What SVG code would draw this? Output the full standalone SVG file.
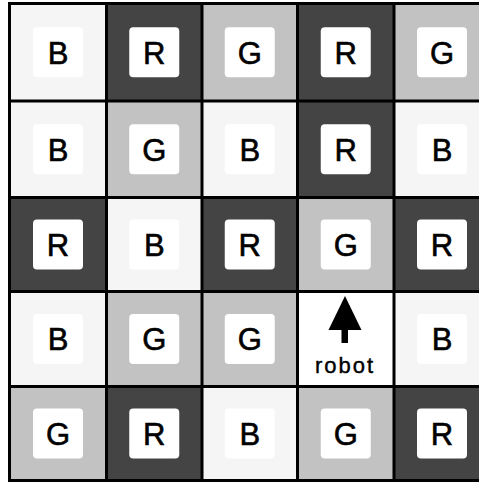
<svg xmlns="http://www.w3.org/2000/svg" width="479" height="482" viewBox="0 0 479 482">
<style>
.b{fill:#f5f5f5}
.g{fill:#c2c2c2}
.r{fill:#444444}
.w{fill:#ffffff}
.in{fill:#ffffff}
.t{font-family:"Liberation Sans",Arial,sans-serif;font-size:31px;text-anchor:middle;fill:#000;stroke:#000;stroke-width:0.6}
.grid{stroke:#000;stroke-width:3;fill:none}
</style>
<rect width="479" height="482" fill="#ffffff"/>
<g id="cells">
<g id="c00"><rect class="b" x="9.5" y="3.5" width="97" height="97.5"/><rect class="in" x="33" y="27.25" width="50" height="50" rx="4"/><text class="t" x="58" y="63.5">B</text></g>
<g id="c01"><rect class="r" x="106.5" y="3.5" width="95.5" height="97.5"/><rect class="in" x="129.25" y="27.25" width="50" height="50" rx="4"/><text class="t" x="154.25" y="63.5">R</text></g>
<g id="c02"><rect class="g" x="202" y="3.5" width="95.5" height="97.5"/><rect class="in" x="224.75" y="27.25" width="50" height="50" rx="4"/><text class="t" x="249.75" y="63.5">G</text></g>
<g id="c03"><rect class="r" x="297.5" y="3.5" width="96.5" height="97.5"/><rect class="in" x="320.75" y="27.25" width="50" height="50" rx="4"/><text class="t" x="345.75" y="63.5">R</text></g>
<g id="c04"><rect class="g" x="394" y="3.5" width="96" height="97.5"/><rect class="in" x="417" y="27.25" width="50" height="50" rx="4"/><text class="t" x="442" y="63.5">G</text></g>

<g id="c10"><rect class="b" x="9.5" y="101" width="97" height="96.5"/><rect class="in" x="33" y="124.25" width="50" height="50" rx="4"/><text class="t" x="58" y="160.5">B</text></g>
<g id="c11"><rect class="g" x="106.5" y="101" width="95.5" height="96.5"/><rect class="in" x="129.25" y="124.25" width="50" height="50" rx="4"/><text class="t" x="154.25" y="160.5">G</text></g>
<g id="c12"><rect class="b" x="202" y="101" width="95.5" height="96.5"/><rect class="in" x="224.75" y="124.25" width="50" height="50" rx="4"/><text class="t" x="249.75" y="160.5">B</text></g>
<g id="c13"><rect class="r" x="297.5" y="101" width="96.5" height="96.5"/><rect class="in" x="320.75" y="124.25" width="50" height="50" rx="4"/><text class="t" x="345.75" y="160.5">R</text></g>
<g id="c14"><rect class="b" x="394" y="101" width="96" height="96.5"/><rect class="in" x="417" y="124.25" width="50" height="50" rx="4"/><text class="t" x="442" y="160.5">B</text></g>

<g id="c20"><rect class="r" x="9.5" y="197.5" width="97" height="94"/><rect class="in" x="33" y="219.5" width="50" height="50" rx="4"/><text class="t" x="58" y="255.5">R</text></g>
<g id="c21"><rect class="b" x="106.5" y="197.5" width="95.5" height="94"/><rect class="in" x="129.25" y="219.5" width="50" height="50" rx="4"/><text class="t" x="154.25" y="255.5">B</text></g>
<g id="c22"><rect class="r" x="202" y="197.5" width="95.5" height="94"/><rect class="in" x="224.75" y="219.5" width="50" height="50" rx="4"/><text class="t" x="249.75" y="255.5">R</text></g>
<g id="c23"><rect class="g" x="297.5" y="197.5" width="96.5" height="94"/><rect class="in" x="320.75" y="219.5" width="50" height="50" rx="4"/><text class="t" x="345.75" y="255.5">G</text></g>
<g id="c24"><rect class="r" x="394" y="197.5" width="96" height="94"/><rect class="in" x="417" y="219.5" width="50" height="50" rx="4"/><text class="t" x="442" y="255.5">R</text></g>

<g id="c30"><rect class="b" x="9.5" y="291.5" width="97" height="95"/><rect class="in" x="33" y="314" width="50" height="50" rx="4"/><text class="t" x="58" y="350">B</text></g>
<g id="c31"><rect class="g" x="106.5" y="291.5" width="95.5" height="95"/><rect class="in" x="129.25" y="314" width="50" height="50" rx="4"/><text class="t" x="154.25" y="350">G</text></g>
<g id="c32"><rect class="g" x="202" y="291.5" width="95.5" height="95"/><rect class="in" x="224.75" y="314" width="50" height="50" rx="4"/><text class="t" x="249.75" y="350">G</text></g>
<g id="robot"><rect class="w" x="297.5" y="291.5" width="96.5" height="95"/><polygon points="345,296 328.5,330 361.5,330" fill="#000"/><rect x="341.5" y="328" width="6.5" height="15" fill="#000"/><text x="345" y="373" font-family="Liberation Sans,Arial,sans-serif" font-size="22" letter-spacing="2" text-anchor="middle" fill="#000" stroke="#000" stroke-width="0.4">robot</text></g>
<g id="c34"><rect class="b" x="394" y="291.5" width="96" height="95"/><rect class="in" x="417" y="314" width="50" height="50" rx="4"/><text class="t" x="442" y="350">B</text></g>

<g id="c40"><rect class="g" x="9.5" y="386.5" width="97" height="94"/><rect class="in" x="33" y="408.5" width="50" height="50" rx="4"/><text class="t" x="58" y="444.5">G</text></g>
<g id="c41"><rect class="r" x="106.5" y="386.5" width="95.5" height="94"/><rect class="in" x="129.25" y="408.5" width="50" height="50" rx="4"/><text class="t" x="154.25" y="444.5">R</text></g>
<g id="c42"><rect class="b" x="202" y="386.5" width="95.5" height="94"/><rect class="in" x="224.75" y="408.5" width="50" height="50" rx="4"/><text class="t" x="249.75" y="444.5">B</text></g>
<g id="c43"><rect class="g" x="297.5" y="386.5" width="96.5" height="94"/><rect class="in" x="320.75" y="408.5" width="50" height="50" rx="4"/><text class="t" x="345.75" y="444.5">G</text></g>
<g id="c44"><rect class="r" x="394" y="386.5" width="96" height="94"/><rect class="in" x="417" y="408.5" width="50" height="50" rx="4"/><text class="t" x="442" y="444.5">R</text></g>
</g>
<g id="connectors" class="grid">
<path d="M9.5 2V482M106.5 2V482M202 2V482M297.5 2V482M394 2V482"/>
<path d="M8 3.5H479M8 101H479M8 197.5H479M8 291.5H479M8 386.5H479M8 480.5H479"/>
</g>
</svg>
